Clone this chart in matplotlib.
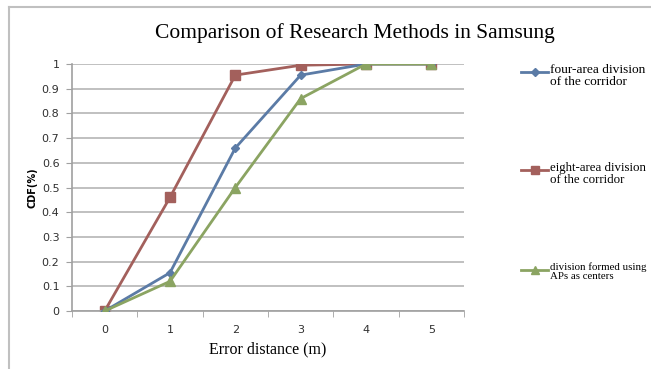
import matplotlib
matplotlib.use('Agg')
import matplotlib.pyplot as plt
from matplotlib.lines import Line2D

# data
distance = [0, 1, 2, 3, 4, 5]
four_area = [0, 0.155, 0.66, 0.955, 1.0, 1.0]
eight_area = [0, 0.46, 0.955, 0.995, 1.0, 1.0]
ap_centers = [0, 0.12, 0.5, 0.86, 1.0, 1.0]
labels = ['four-area division\nof the corridor',
          'eight-area division\nof the corridor',
          'division formed using\nAPs as centers']

blue, red, green = '#5b7ba6', '#a3605c', '#8ba462'
serif = 'Liberation Serif'


def frame(fig):
	'Grey border lines along the top and left edges'
	fig.add_artist(Line2D([0.014, 0.014], [0, 0.981], transform=fig.transFigure, color='#c0c0c0', lw=1.5))
	fig.add_artist(Line2D([0.014, 1], [0.981, 0.981], transform=fig.transFigure, color='#c0c0c0', lw=1.5))


fig = plt.figure(figsize=(6.51, 3.69), dpi=100)
frame(fig)
ax = fig.add_axes([72/651, 1-311/369, (464-72)/651, (311-64)/369])

ax.plot(distance, four_area, color=blue, lw=2, marker='D', ms=4.5, zorder=3)
ax.plot(distance, eight_area, color=red, lw=2, marker='s', ms=7, zorder=2)
ax.plot(distance, ap_centers, color=green, lw=2, marker='^', ms=7, zorder=4)

ax.set_xlim(-0.5, 5.5)
ax.set_ylim(0, 1)
ax.set_yticks([i/10 for i in range(11)])
ax.set_yticklabels(['0', '0.1', '0.2', '0.3', '0.4', '0.5', '0.6', '0.7', '0.8', '0.9', '1'])
ax.set_xticks(distance)
ax.set_xticks([i - 0.5 for i in range(7)], minor=True)
ax.tick_params(axis='x', which='major', length=0, labelsize=8, pad=10)
ax.tick_params(axis='x', which='minor', length=4, color='#a0a0a0', direction='out')
ax.tick_params(axis='y', length=4, color='#a0a0a0', labelsize=8, pad=5)
for lab in ax.get_xticklabels() + ax.get_yticklabels():
	lab.set_color('#303030')

ax.grid(axis='y', color='#b5b5b5', lw=1.2)
ax.set_axisbelow(True)
for s in ['top', 'right']:
	ax.spines[s].set_visible(False)
for s in ['left', 'bottom']:
	ax.spines[s].set_color('#a0a0a0')
	ax.spines[s].set_linewidth(1.2)

ax.set_xlabel('Error distance (m)', family=serif, fontsize=11.5, labelpad=5)
ax.set_ylabel('CDF(%)', fontsize=7, fontweight='bold', labelpad=3)
fig.text(355/651, 1-33/369, 'Comparison of Research Methods in Samsung',
	family=serif, fontsize=15.5, ha='center', va='center')

# legend drawn by hand to keep the wide spacing of the original
ys = [72, 170, 270]
cols = [blue, red, green]
marks = ['D', 's', '^']
sizes = [4, 6, 6]
fonts = [9.6, 9.3, 7.8]
for y, c, m, ms, lab, fs in zip(ys, cols, marks, sizes, labels, fonts):
	yf = 1 - y/369
	fig.add_artist(Line2D([521/651, 548/651], [yf, yf], transform=fig.transFigure,
		color=c, lw=2))
	fig.add_artist(Line2D([534.5/651], [yf], transform=fig.transFigure,
		color=c, marker=m, ms=ms, lw=0))
	fig.text(550/651, yf + 0.022, lab, family=serif, fontsize=fs, ha='left', va='top',
		linespacing=1.05)

plt.savefig('out.png', dpi=100)
